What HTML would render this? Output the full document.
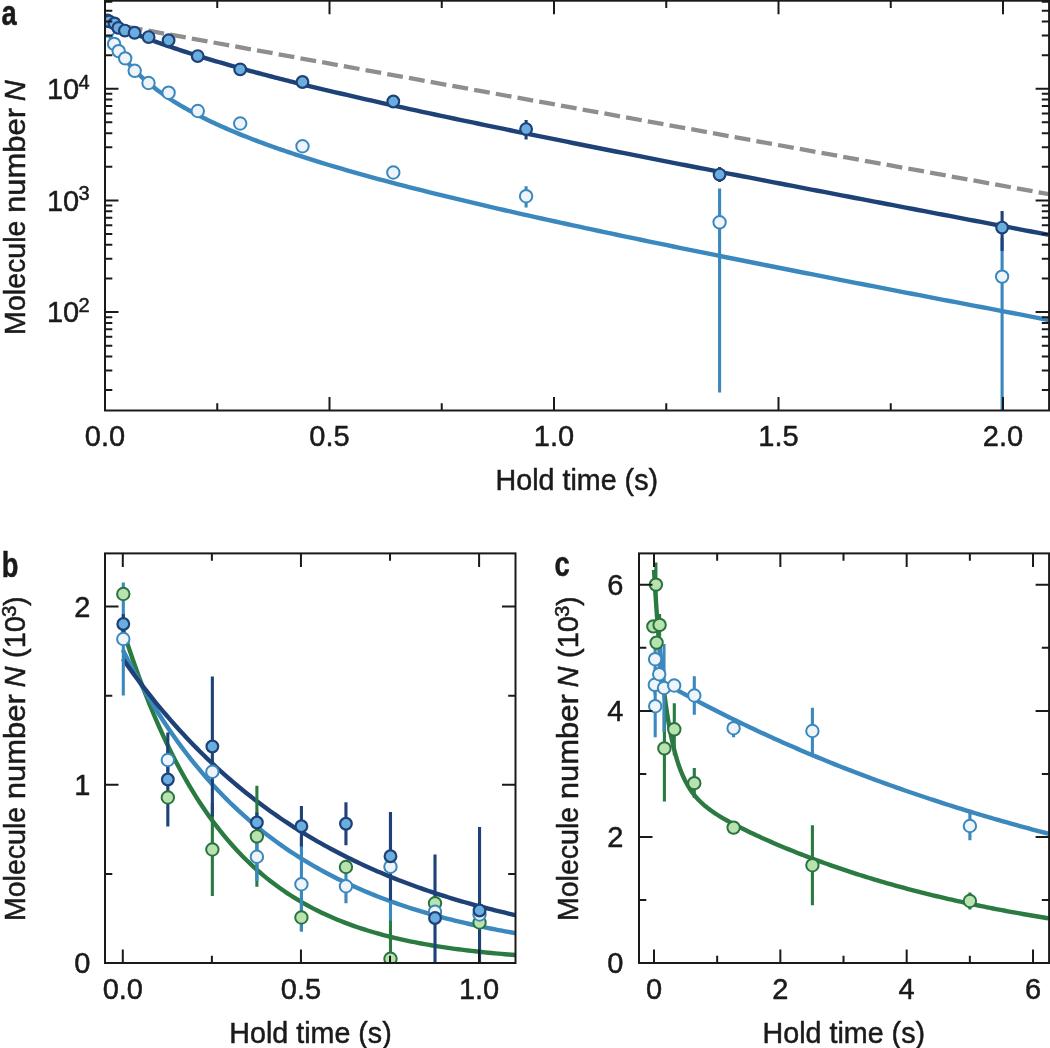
<!DOCTYPE html>
<html><head><meta charset="utf-8"><title>Figure</title><style>html,body{margin:0;padding:0;background:#fff}svg{display:block}text{stroke:#1a1a1a;stroke-width:.5px;stroke-linejoin:round}</style></head><body>
<svg width="1050" height="1048" viewBox="0 0 1050 1048" font-family="'Liberation Sans', Arial, Helvetica, sans-serif" fill="#1a1a1a">
<rect width="1050" height="1048" fill="#ffffff"/>
<defs><clipPath id="ca"><rect x="105" y="0.7" width="943.5" height="409.8"/></clipPath><clipPath id="cb"><rect x="105" y="553" width="410.5" height="410"/></clipPath><clipPath id="cc"><rect x="639" y="553" width="409.5" height="410"/></clipPath></defs>
<g clip-path="url(#ca)">
<path d="M105 22.8 L1060 196.18" stroke="#8e8e8e" stroke-width="4.3" stroke-dasharray="15.9 6.167" stroke-dashoffset="0" fill="none"/>
<path d="M105 25.39 L107.47 30.91 L109.94 35.9 L112.41 40.46 L114.87 44.67 L117.34 48.57 L119.81 52.22 L122.28 55.64 L124.75 58.86 L127.22 61.9 L129.68 64.79 L132.15 67.54 L134.62 70.17 L137.09 72.68 L139.56 75.09 L142.03 77.41 L144.49 79.64 L146.96 81.79 L149.43 83.86 L151.9 85.87 L154.37 87.82 L156.84 89.71 L159.3 91.54 L161.77 93.32 L164.24 95.05 L166.71 96.74 L169.18 98.39 L171.65 99.99 L174.11 101.56 L176.58 103.09 L179.05 104.59 L181.52 106.06 L183.99 107.49 L186.46 108.9 L188.92 110.28 L191.39 111.63 L193.86 112.96 L196.33 114.27 L198.8 115.55 L201.27 116.81 L203.73 118.05 L206.2 119.27 L208.67 120.47 L211.14 121.65 L213.61 122.81 L216.08 123.96 L218.54 125.09 L221.01 126.2 L223.48 127.3 L225.95 128.38 L228.42 129.45 L230.89 130.51 L233.35 131.55 L235.82 132.58 L238.29 133.6 L240.76 134.61 L243.23 135.6 L245.7 136.58 L248.16 137.56 L250.63 138.52 L253.1 139.47 L255.57 140.41 L258.04 141.34 L260.51 142.27 L262.97 143.18 L265.44 144.09 L267.91 144.98 L270.38 145.87 L272.85 146.75 L275.32 147.62 L277.78 148.49 L280.25 149.35 L282.72 150.2 L285.19 151.04 L287.66 151.88 L290.13 152.71 L292.59 153.53 L295.06 154.35 L297.53 155.16 L300 155.96 L303 156.93 L309.28 158.93 L315.55 160.9 L321.83 162.83 L328.11 164.74 L334.39 166.61 L340.66 168.46 L346.94 170.28 L353.22 172.07 L359.5 173.84 L365.77 175.59 L372.05 177.32 L378.33 179.02 L384.61 180.71 L390.88 182.38 L397.16 184.03 L403.44 185.66 L409.71 187.28 L415.99 188.88 L422.27 190.47 L428.55 192.04 L434.82 193.6 L441.1 195.15 L447.38 196.68 L453.66 198.21 L459.93 199.72 L466.21 201.22 L472.49 202.7 L478.76 204.18 L485.04 205.65 L491.32 207.11 L497.6 208.56 L503.87 210 L510.15 211.44 L516.43 212.86 L522.71 214.28 L528.98 215.69 L535.26 217.09 L541.54 218.48 L547.82 219.87 L554.09 221.25 L560.37 222.63 L566.65 224 L572.92 225.36 L579.2 226.72 L585.48 228.07 L591.76 229.42 L598.03 230.76 L604.31 232.1 L610.59 233.43 L616.87 234.75 L623.14 236.08 L629.42 237.4 L635.7 238.71 L641.97 240.02 L648.25 241.32 L654.53 242.63 L660.81 243.92 L667.08 245.22 L673.36 246.51 L679.64 247.8 L685.92 249.08 L692.19 250.36 L698.47 251.64 L704.75 252.91 L711.03 254.19 L717.3 255.46 L723.58 256.72 L729.86 257.99 L736.13 259.25 L742.41 260.5 L748.69 261.76 L754.97 263.01 L761.24 264.27 L767.52 265.51 L773.8 266.76 L780.08 268.01 L786.35 269.25 L792.63 270.49 L798.91 271.73 L805.18 272.97 L811.46 274.2 L817.74 275.43 L824.02 276.67 L830.29 277.9 L836.57 279.12 L842.85 280.35 L849.13 281.58 L855.4 282.8 L861.68 284.02 L867.96 285.24 L874.24 286.46 L880.51 287.68 L886.79 288.9 L893.07 290.11 L899.34 291.33 L905.62 292.54 L911.9 293.75 L918.18 294.96 L924.45 296.17 L930.73 297.38 L937.01 298.59 L943.29 299.79 L949.56 301 L955.84 302.2 L962.12 303.41 L968.39 304.61 L974.67 305.81 L980.95 307.01 L987.23 308.21 L993.5 309.41 L999.78 310.61 L1006.06 311.81 L1012.34 313.01 L1018.61 314.2 L1024.89 315.4 L1031.17 316.59 L1037.45 317.79 L1043.72 318.98 L1050 320.18" stroke="#3a88be" stroke-width="4.4" fill="none" stroke-linejoin="round" />
<path d="M105 20.82 L107.47 21.98 L109.94 23.13 L112.41 24.26 L114.87 25.37 L117.34 26.46 L119.81 27.54 L122.28 28.6 L124.75 29.65 L127.22 30.68 L129.68 31.7 L132.15 32.71 L134.62 33.7 L137.09 34.68 L139.56 35.65 L142.03 36.6 L144.49 37.55 L146.96 38.48 L149.43 39.4 L151.9 40.32 L154.37 41.22 L156.84 42.11 L159.3 43 L161.77 43.87 L164.24 44.74 L166.71 45.6 L169.18 46.45 L171.65 47.29 L174.11 48.12 L176.58 48.95 L179.05 49.76 L181.52 50.58 L183.99 51.38 L186.46 52.18 L188.92 52.97 L191.39 53.75 L193.86 54.53 L196.33 55.3 L198.8 56.07 L201.27 56.83 L203.73 57.58 L206.2 58.33 L208.67 59.08 L211.14 59.82 L213.61 60.55 L216.08 61.28 L218.54 62 L221.01 62.72 L223.48 63.43 L225.95 64.14 L228.42 64.85 L230.89 65.55 L233.35 66.25 L235.82 66.94 L238.29 67.63 L240.76 68.31 L243.23 68.99 L245.7 69.67 L248.16 70.34 L250.63 71.01 L253.1 71.68 L255.57 72.34 L258.04 73 L260.51 73.66 L262.97 74.31 L265.44 74.96 L267.91 75.6 L270.38 76.25 L272.85 76.89 L275.32 77.53 L277.78 78.16 L280.25 78.79 L282.72 79.42 L285.19 80.05 L287.66 80.67 L290.13 81.29 L292.59 81.91 L295.06 82.53 L297.53 83.14 L300 83.75 L303 84.49 L309.28 86.03 L315.55 87.55 L321.83 89.06 L328.11 90.56 L334.39 92.04 L340.66 93.51 L346.94 94.97 L353.22 96.42 L359.5 97.86 L365.77 99.29 L372.05 100.72 L378.33 102.13 L384.61 103.53 L390.88 104.93 L397.16 106.31 L403.44 107.69 L409.71 109.07 L415.99 110.43 L422.27 111.79 L428.55 113.15 L434.82 114.49 L441.1 115.83 L447.38 117.17 L453.66 118.5 L459.93 119.82 L466.21 121.14 L472.49 122.46 L478.76 123.77 L485.04 125.07 L491.32 126.38 L497.6 127.67 L503.87 128.97 L510.15 130.26 L516.43 131.54 L522.71 132.82 L528.98 134.1 L535.26 135.38 L541.54 136.65 L547.82 137.92 L554.09 139.19 L560.37 140.45 L566.65 141.71 L572.92 142.97 L579.2 144.23 L585.48 145.48 L591.76 146.73 L598.03 147.98 L604.31 149.23 L610.59 150.48 L616.87 151.72 L623.14 152.96 L629.42 154.2 L635.7 155.44 L641.97 156.67 L648.25 157.91 L654.53 159.14 L660.81 160.37 L667.08 161.6 L673.36 162.83 L679.64 164.05 L685.92 165.28 L692.19 166.5 L698.47 167.72 L704.75 168.94 L711.03 170.16 L717.3 171.38 L723.58 172.6 L729.86 173.82 L736.13 175.03 L742.41 176.25 L748.69 177.46 L754.97 178.67 L761.24 179.89 L767.52 181.1 L773.8 182.31 L780.08 183.52 L786.35 184.73 L792.63 185.93 L798.91 187.14 L805.18 188.35 L811.46 189.55 L817.74 190.76 L824.02 191.96 L830.29 193.17 L836.57 194.37 L842.85 195.58 L849.13 196.78 L855.4 197.98 L861.68 199.18 L867.96 200.38 L874.24 201.58 L880.51 202.78 L886.79 203.98 L893.07 205.18 L899.34 206.38 L905.62 207.58 L911.9 208.78 L918.18 209.97 L924.45 211.17 L930.73 212.37 L937.01 213.56 L943.29 214.76 L949.56 215.96 L955.84 217.15 L962.12 218.35 L968.39 219.54 L974.67 220.74 L980.95 221.93 L987.23 223.13 L993.5 224.32 L999.78 225.51 L1006.06 226.71 L1012.34 227.9 L1018.61 229.09 L1024.89 230.29 L1031.17 231.48 L1037.45 232.67 L1043.72 233.86 L1050 235.06" stroke="#1e4278" stroke-width="4.4" fill="none" stroke-linejoin="round" />
<path d="M526.1 186.3V207.6 M719.6 188.6V392.5 M1002.1 238V420" stroke="#3a88be" stroke-width="3.1" fill="none"/>
<path d="M526.1 120V139.4 M719.6 167V182 M1002.1 211V251" stroke="#1e4278" stroke-width="3.1" fill="none"/>
<g fill="#eef4fa" stroke="#3a88be" stroke-width="2.0"><circle cx="108.3" cy="30.5" r="6.2"/><circle cx="114.1" cy="43.9" r="6.2"/><circle cx="118.7" cy="51.1" r="6.2"/><circle cx="125.2" cy="58.4" r="6.2"/><circle cx="134.7" cy="70.8" r="6.2"/><circle cx="148.5" cy="83" r="6.2"/><circle cx="168.6" cy="92.7" r="6.2"/><circle cx="197.8" cy="111" r="6.2"/><circle cx="240.2" cy="123.5" r="6.2"/><circle cx="302.5" cy="146.25" r="6.2"/><circle cx="393.3" cy="172.5" r="6.2"/><circle cx="526.1" cy="196.2" r="6.2"/><circle cx="719.6" cy="222.3" r="6.2"/><circle cx="1002.1" cy="276.6" r="6.2"/></g>
<g fill="#6aaee0" stroke="#1e4278" stroke-width="2.2"><circle cx="107.3" cy="20.5" r="5.85"/><circle cx="109.2" cy="21.4" r="5.85"/><circle cx="114.5" cy="23.5" r="5.85"/><circle cx="118.4" cy="27.9" r="5.85"/><circle cx="124.9" cy="30.6" r="5.85"/><circle cx="134.6" cy="32.8" r="5.85"/><circle cx="148.6" cy="37.1" r="5.85"/><circle cx="168.6" cy="40.3" r="5.85"/><circle cx="197.7" cy="56.1" r="5.85"/><circle cx="240.2" cy="69.4" r="5.85"/><circle cx="302.5" cy="82" r="5.85"/><circle cx="393.3" cy="101.5" r="5.85"/><circle cx="526.1" cy="129.1" r="5.85"/><circle cx="719.6" cy="174.6" r="5.85"/><circle cx="1002.1" cy="227.6" r="5.85"/></g>
</g>
<path d="M329.5 0.7 v13.5 M329.5 410.5 v-13.5 M554 0.7 v13.5 M554 410.5 v-13.5 M778.5 0.7 v13.5 M778.5 410.5 v-13.5 M1003 0.7 v13.5 M1003 410.5 v-13.5 M217.25 0.7 v7.3 M217.25 410.5 v-7.3 M441.75 0.7 v7.3 M441.75 410.5 v-7.3 M666.25 0.7 v7.3 M666.25 410.5 v-7.3 M890.75 0.7 v7.3 M890.75 410.5 v-7.3 M105 88.75 h13.5 M1049.1 88.75 h-13.5 M105 200.41 h13.5 M1049.1 200.41 h-13.5 M105 312.07 h13.5 M1049.1 312.07 h-13.5 M105 390.12 h7.3 M1049.1 390.12 h-7.3 M105 370.45 h7.3 M1049.1 370.45 h-7.3 M105 356.5 h7.3 M1049.1 356.5 h-7.3 M105 345.68 h7.3 M1049.1 345.68 h-7.3 M105 336.84 h7.3 M1049.1 336.84 h-7.3 M105 329.37 h7.3 M1049.1 329.37 h-7.3 M105 322.89 h7.3 M1049.1 322.89 h-7.3 M105 317.18 h7.3 M1049.1 317.18 h-7.3 M105 278.46 h7.3 M1049.1 278.46 h-7.3 M105 258.79 h7.3 M1049.1 258.79 h-7.3 M105 244.84 h7.3 M1049.1 244.84 h-7.3 M105 234.02 h7.3 M1049.1 234.02 h-7.3 M105 225.18 h7.3 M1049.1 225.18 h-7.3 M105 217.71 h7.3 M1049.1 217.71 h-7.3 M105 211.23 h7.3 M1049.1 211.23 h-7.3 M105 205.52 h7.3 M1049.1 205.52 h-7.3 M105 166.8 h7.3 M1049.1 166.8 h-7.3 M105 147.13 h7.3 M1049.1 147.13 h-7.3 M105 133.18 h7.3 M1049.1 133.18 h-7.3 M105 122.36 h7.3 M1049.1 122.36 h-7.3 M105 113.52 h7.3 M1049.1 113.52 h-7.3 M105 106.05 h7.3 M1049.1 106.05 h-7.3 M105 99.57 h7.3 M1049.1 99.57 h-7.3 M105 93.86 h7.3 M1049.1 93.86 h-7.3 M105 55.14 h7.3 M1049.1 55.14 h-7.3 M105 35.47 h7.3 M1049.1 35.47 h-7.3 M105 21.52 h7.3 M1049.1 21.52 h-7.3 M105 10.7 h7.3 M1049.1 10.7 h-7.3 M105 1.86 h7.3 M1049.1 1.86 h-7.3" stroke="#1a1a1a" stroke-width="2.0" fill="none"/>
<rect x="105" y="0.7" width="944.1" height="409.8" fill="none" stroke="#1a1a1a" stroke-width="2.0"/>
<text x="105" y="446.4" font-size="29" text-anchor="middle">0.0</text>
<text x="329.5" y="446.4" font-size="29" text-anchor="middle">0.5</text>
<text x="554" y="446.4" font-size="29" text-anchor="middle">1.0</text>
<text x="778.5" y="446.4" font-size="29" text-anchor="middle">1.5</text>
<text x="1003" y="446.4" font-size="29" text-anchor="middle">2.0</text>
<text x="89.5" y="98.95" font-size="29" text-anchor="end">10<tspan font-size="20" dy="-10.2" dx="-0.8">4</tspan></text>
<text x="89.5" y="210.61" font-size="29" text-anchor="end">10<tspan font-size="20" dy="-10.2" dx="-0.8">3</tspan></text>
<text x="89.5" y="322.27" font-size="29" text-anchor="end">10<tspan font-size="20" dy="-10.2" dx="-0.8">2</tspan></text>
<text x="576.8" y="489.9" font-size="29" text-anchor="middle" textLength="162.5" lengthAdjust="spacingAndGlyphs">Hold time (s)</text>
<g transform="translate(25.3 172.3) rotate(-90)" font-size="29"><text x="-162.6" y="0" textLength="114.3" lengthAdjust="spacingAndGlyphs">Molecule</text><text x="-40.7" y="0" textLength="105.1" lengthAdjust="spacingAndGlyphs">number</text><text x="71" y="0" font-style="italic">N</text></g>
<text transform="translate(1.5 24.6) scale(0.78 1)" font-size="35" font-weight="bold">a</text>
<text transform="translate(1.8 576.6) scale(0.78 1)" font-size="35" font-weight="bold">b</text>
<text transform="translate(554.5 576.4) scale(0.78 1)" font-size="35" font-weight="bold">c</text>
<g clip-path="url(#cb)">
<path d="M122.8 629.2 L126.15 639.69 L129.51 649.84 L132.86 659.67 L136.21 669.2 L139.57 678.42 L142.92 687.36 L146.27 696.01 L149.63 704.4 L152.98 712.52 L156.33 720.38 L159.69 728 L163.04 735.38 L166.39 742.53 L169.75 749.45 L173.1 756.16 L176.45 762.65 L179.81 768.94 L183.16 775.04 L186.51 780.94 L189.87 786.66 L193.22 792.19 L196.58 797.56 L199.93 802.75 L203.28 807.78 L206.64 812.66 L209.99 817.38 L213.34 821.95 L216.7 826.38 L220.05 830.67 L223.4 834.82 L226.76 838.85 L230.11 842.75 L233.46 846.52 L236.82 850.18 L240.17 853.72 L243.52 857.16 L246.88 860.48 L250.23 863.7 L253.58 866.82 L256.94 869.84 L260.29 872.76 L263.64 875.6 L267 878.34 L270.35 881 L273.7 883.57 L277.06 886.07 L280.41 888.48 L283.76 890.82 L287.12 893.09 L290.47 895.28 L293.82 897.41 L297.18 899.47 L300.53 901.47 L303.88 903.4 L307.24 905.27 L310.59 907.08 L313.94 908.84 L317.3 910.54 L320.65 912.19 L324 913.78 L327.36 915.33 L330.71 916.82 L334.06 918.27 L337.42 919.68 L340.77 921.04 L344.13 922.36 L347.48 923.63 L350.83 924.87 L354.19 926.07 L357.54 927.23 L360.89 928.35 L364.25 929.44 L367.6 930.49 L370.95 931.51 L374.31 932.5 L377.66 933.46 L381.01 934.39 L384.37 935.28 L387.72 936.15 L391.07 937 L394.43 937.81 L397.78 938.61 L401.13 939.37 L404.49 940.11 L407.84 940.83 L411.19 941.53 L414.55 942.2 L417.9 942.86 L421.25 943.49 L424.61 944.1 L427.96 944.69 L431.31 945.27 L434.67 945.83 L438.02 946.36 L441.37 946.89 L444.73 947.39 L448.08 947.88 L451.43 948.36 L454.79 948.82 L458.14 949.26 L461.49 949.69 L464.85 950.11 L468.2 950.52 L471.55 950.91 L474.91 951.29 L478.26 951.66 L481.62 952.01 L484.97 952.36 L488.32 952.69 L491.68 953.02 L495.03 953.33 L498.38 953.63 L501.74 953.93 L505.09 954.21 L508.44 954.49 L511.8 954.75 L515.15 955.01 L518.5 955.26 L521.86 955.51" stroke="#2a7a42" stroke-width="4.4" fill="none" stroke-linejoin="round" />
<path d="M122.8 649.77 L126.15 656.46 L129.51 662.99 L132.86 669.36 L136.21 675.59 L139.57 681.67 L142.92 687.6 L146.27 693.4 L149.63 699.07 L152.98 704.61 L156.33 710.02 L159.69 715.3 L163.04 720.47 L166.39 725.51 L169.75 730.45 L173.1 735.27 L176.45 739.98 L179.81 744.59 L183.16 749.1 L186.51 753.5 L189.87 757.81 L193.22 762.02 L196.58 766.14 L199.93 770.17 L203.28 774.11 L206.64 777.96 L209.99 781.73 L213.34 785.42 L216.7 789.03 L220.05 792.56 L223.4 796.01 L226.76 799.39 L230.11 802.7 L233.46 805.93 L236.82 809.1 L240.17 812.2 L243.52 815.23 L246.88 818.2 L250.23 821.11 L253.58 823.95 L256.94 826.73 L260.29 829.46 L263.64 832.13 L267 834.74 L270.35 837.3 L273.7 839.8 L277.06 842.25 L280.41 844.66 L283.76 847.01 L287.12 849.31 L290.47 851.56 L293.82 853.77 L297.18 855.93 L300.53 858.05 L303.88 860.12 L307.24 862.16 L310.59 864.15 L313.94 866.09 L317.3 868 L320.65 869.87 L324 871.71 L327.36 873.5 L330.71 875.26 L334.06 876.98 L337.42 878.67 L340.77 880.32 L344.13 881.94 L347.48 883.53 L350.83 885.08 L354.19 886.61 L357.54 888.1 L360.89 889.56 L364.25 891 L367.6 892.4 L370.95 893.78 L374.31 895.13 L377.66 896.45 L381.01 897.75 L384.37 899.02 L387.72 900.26 L391.07 901.48 L394.43 902.68 L397.78 903.85 L401.13 905 L404.49 906.12 L407.84 907.22 L411.19 908.31 L414.55 909.37 L417.9 910.4 L421.25 911.42 L424.61 912.42 L427.96 913.4 L431.31 914.36 L434.67 915.3 L438.02 916.22 L441.37 917.12 L444.73 918.01 L448.08 918.88 L451.43 919.73 L454.79 920.57 L458.14 921.38 L461.49 922.19 L464.85 922.97 L468.2 923.74 L471.55 924.5 L474.91 925.24 L478.26 925.97 L481.62 926.68 L484.97 927.38 L488.32 928.06 L491.68 928.74 L495.03 929.39 L498.38 930.04 L501.74 930.67 L505.09 931.29 L508.44 931.9 L511.8 932.5 L515.15 933.09 L518.5 933.66 L521.86 934.22" stroke="#3a88be" stroke-width="4.4" fill="none" stroke-linejoin="round" />
<path d="M122.8 658.84 L126.15 663.6 L129.51 668.29 L132.86 672.91 L136.21 677.45 L139.57 681.93 L142.92 686.33 L146.27 690.67 L149.63 694.93 L152.98 699.13 L156.33 703.27 L159.69 707.34 L163.04 711.34 L166.39 715.29 L169.75 719.17 L173.1 722.99 L176.45 726.75 L179.81 730.45 L183.16 734.09 L186.51 737.68 L189.87 741.21 L193.22 744.68 L196.58 748.1 L199.93 751.47 L203.28 754.79 L206.64 758.05 L209.99 761.26 L213.34 764.42 L216.7 767.53 L220.05 770.59 L223.4 773.61 L226.76 776.58 L230.11 779.5 L233.46 782.37 L236.82 785.2 L240.17 787.99 L243.52 790.73 L246.88 793.43 L250.23 796.08 L253.58 798.7 L256.94 801.27 L260.29 803.81 L263.64 806.3 L267 808.76 L270.35 811.17 L273.7 813.55 L277.06 815.89 L280.41 818.2 L283.76 820.47 L287.12 822.7 L290.47 824.9 L293.82 827.06 L297.18 829.19 L300.53 831.29 L303.88 833.35 L307.24 835.38 L310.59 837.38 L313.94 839.35 L317.3 841.29 L320.65 843.19 L324 845.07 L327.36 846.92 L330.71 848.74 L334.06 850.53 L337.42 852.29 L340.77 854.03 L344.13 855.73 L347.48 857.41 L350.83 859.07 L354.19 860.7 L357.54 862.3 L360.89 863.88 L364.25 865.43 L367.6 866.96 L370.95 868.46 L374.31 869.94 L377.66 871.4 L381.01 872.84 L384.37 874.25 L387.72 875.64 L391.07 877.01 L394.43 878.36 L397.78 879.68 L401.13 880.99 L404.49 882.27 L407.84 883.54 L411.19 884.78 L414.55 886.01 L417.9 887.21 L421.25 888.4 L424.61 889.57 L427.96 890.72 L431.31 891.85 L434.67 892.97 L438.02 894.07 L441.37 895.15 L444.73 896.21 L448.08 897.25 L451.43 898.28 L454.79 899.3 L458.14 900.3 L461.49 901.28 L464.85 902.25 L468.2 903.2 L471.55 904.14 L474.91 905.06 L478.26 905.97 L481.62 906.86 L484.97 907.74 L488.32 908.6 L491.68 909.46 L495.03 910.3 L498.38 911.12 L501.74 911.93 L505.09 912.73 L508.44 913.52 L511.8 914.3 L515.15 915.06 L518.5 915.81 L521.86 916.55" stroke="#1e4278" stroke-width="4.4" fill="none" stroke-linejoin="round" />
<path d="M123.3 594V594 M167.83 797.5V797.5 M212.36 803V896 M256.89 785.8V886.8 M301.42 903.5V931.5 M345.95 867V867 M390.48 918.75V998.75 M435.01 903.25V903.25 M479.54 922.5V922.5" stroke="#2a7a42" stroke-width="3.1" fill="none"/>
<path d="M123.3 582.5V695.5 M167.83 748V772 M212.36 759.75V783.75 M256.89 832.45V881.05 M301.42 837.25V931.25 M345.95 869.25V903.25 M390.48 812.75V920.75 M435.01 899.75V923.75 M479.54 902.5V926.5" stroke="#3a88be" stroke-width="3.1" fill="none"/>
<path d="M123.3 614V634 M167.83 732.5V826.5 M212.36 676.5V816.5 M256.89 812.5V832.5 M301.42 805.95V846.55 M345.95 802.25V845.25 M390.48 811.95V900.55 M435.01 854.5V981.5 M479.54 827V994" stroke="#1e4278" stroke-width="3.1" fill="none"/>
<g fill="#b8e2ae" stroke="#2a7340" stroke-width="2.0"><circle cx="123.3" cy="594" r="6.2"/><circle cx="167.83" cy="797.5" r="6.2"/><circle cx="212.36" cy="849.5" r="6.2"/><circle cx="256.89" cy="836.3" r="6.2"/><circle cx="301.42" cy="917.5" r="6.2"/><circle cx="345.95" cy="867" r="6.2"/><circle cx="390.48" cy="958.75" r="6.2"/><circle cx="435.01" cy="903.25" r="6.2"/><circle cx="479.54" cy="922.5" r="6.2"/></g>
<g fill="#eef4fa" stroke="#3a88be" stroke-width="2.0"><circle cx="123.3" cy="639" r="6.2"/><circle cx="167.83" cy="760" r="6.2"/><circle cx="212.36" cy="771.75" r="6.2"/><circle cx="256.89" cy="856.75" r="6.2"/><circle cx="301.42" cy="884.25" r="6.2"/><circle cx="345.95" cy="886.25" r="6.2"/><circle cx="390.48" cy="866.75" r="6.2"/><circle cx="435.01" cy="911.75" r="6.2"/><circle cx="479.54" cy="914.5" r="6.2"/></g>
<g fill="#6aaee0" stroke="#1e4278" stroke-width="2.2"><circle cx="123.3" cy="624" r="5.85"/><circle cx="167.83" cy="779.5" r="5.85"/><circle cx="212.36" cy="746.5" r="5.85"/><circle cx="256.89" cy="822.5" r="5.85"/><circle cx="301.42" cy="826.25" r="5.85"/><circle cx="345.95" cy="823.75" r="5.85"/><circle cx="390.48" cy="856.25" r="5.85"/><circle cx="435.01" cy="918" r="5.85"/><circle cx="479.54" cy="910.5" r="5.85"/></g>
</g>
<path d="M122.8 553.4 v13.5 M122.8 963 v-13.5 M300.95 553.4 v13.5 M300.95 963 v-13.5 M479.1 553.4 v13.5 M479.1 963 v-13.5 M211.88 553.4 v7.3 M211.88 963 v-7.3 M390.03 553.4 v7.3 M390.03 963 v-7.3 M105 784.8 h13.5 M515.5 784.8 h-13.5 M105 606.6 h13.5 M515.5 606.6 h-13.5 M105 873.9 h7.3 M515.5 873.9 h-7.3 M105 695.7 h7.3 M515.5 695.7 h-7.3" stroke="#1a1a1a" stroke-width="2.0" fill="none"/>
<rect x="105" y="553.4" width="410.5" height="409.6" fill="none" stroke="#1a1a1a" stroke-width="2.0"/>
<text x="122.8" y="998.8" font-size="29" text-anchor="middle">0.0</text>
<text x="300.95" y="998.8" font-size="29" text-anchor="middle">0.5</text>
<text x="479.1" y="998.8" font-size="29" text-anchor="middle">1.0</text>
<text x="90.4" y="973.2" font-size="29" text-anchor="end">0</text>
<text x="90.4" y="795" font-size="29" text-anchor="end">1</text>
<text x="90.4" y="616.8" font-size="29" text-anchor="end">2</text>
<text x="310.5" y="1042.8" font-size="29" text-anchor="middle" textLength="162.5" lengthAdjust="spacingAndGlyphs">Hold time (s)</text>
<g transform="translate(25.3 758.5) rotate(-90)" font-size="29"><text x="-162.6" y="0" textLength="114.3" lengthAdjust="spacingAndGlyphs">Molecule</text><text x="-40.7" y="0" textLength="105.1" lengthAdjust="spacingAndGlyphs">number</text><text x="71" y="0" font-style="italic">N</text><text x="100.5" y="0">(10</text><text x="141.6" y="-9.2" font-size="20.5">3</text><text x="152.4" y="0">)</text></g>
<g clip-path="url(#cc)">
<path d="M654 569.79 L654.51 578.44 L655.02 586.76 L655.53 594.76 L656.04 602.45 L656.55 609.85 L657.06 616.97 L657.57 623.82 L658.08 630.41 L658.59 636.75 L659.1 642.85 L659.62 648.72 L660.13 654.36 L660.64 659.8 L661.15 665.03 L661.66 670.07 L662.17 674.92 L662.68 679.58 L663.19 684.08 L663.7 688.41 L664.21 692.58 L664.72 696.59 L665.23 700.46 L665.74 704.18 L666.25 707.77 L666.76 711.23 L667.27 714.57 L667.78 717.78 L668.29 720.88 L668.8 723.87 L669.31 726.75 L669.82 729.52 L670.33 732.2 L670.85 734.79 L671.36 737.28 L671.87 739.69 L672.38 742.01 L672.89 744.26 L673.4 746.42 L673.91 748.51 L674.42 750.53 L674.93 752.48 L675.44 754.37 L675.95 756.19 L676.46 757.95 L676.97 759.66 L677.48 761.31 L677.99 762.9 L678.5 764.44 L679.01 765.93 L679.52 767.38 L680.03 768.78 L680.54 770.13 L681.05 771.45 L681.57 772.72 L682.08 773.95 L682.59 775.15 L683.1 776.31 L683.61 777.43 L684.12 778.53 L684.63 779.59 L685.14 780.62 L685.65 781.62 L686.16 782.59 L686.67 783.53 L687.18 784.45 L687.69 785.34 L688.2 786.21 L688.71 787.06 L689.22 787.88 L689.73 788.68 L690.24 789.47 L690.75 790.23 L691.26 790.97 L691.77 791.69 L692.28 792.4 L692.8 793.09 L693.31 793.76 L693.82 794.42 L694.33 795.06 L694.84 795.69 L695.35 796.31 L695.86 796.91 L696.37 797.5 L696.88 798.07 L697.39 798.64 L697.9 799.19 L698.41 799.73 L698.92 800.26 L699.43 800.78 L699.94 801.29 L700.45 801.79 L700.96 802.29 L701.47 802.77 L701.98 803.24 L702.49 803.71 L703 804.17 L703.52 804.62 L704.03 805.07 L704.54 805.5 L705.8 806.56 L708.76 808.89 L711.72 811.05 L714.69 813.08 L717.65 815 L720.61 816.83 L723.57 818.59 L726.53 820.28 L729.5 821.92 L732.46 823.52 L735.42 825.07 L738.38 826.6 L741.34 828.09 L744.31 829.56 L747.27 831 L750.23 832.43 L753.19 833.83 L756.15 835.21 L759.12 836.57 L762.08 837.92 L765.04 839.25 L768 840.57 L770.97 841.87 L773.93 843.15 L776.89 844.43 L779.85 845.68 L782.81 846.93 L785.78 848.16 L788.74 849.37 L791.7 850.58 L794.66 851.77 L797.62 852.94 L800.59 854.11 L803.55 855.26 L806.51 856.4 L809.47 857.53 L812.43 858.65 L815.4 859.75 L818.36 860.84 L821.32 861.93 L824.28 863 L827.25 864.05 L830.21 865.1 L833.17 866.14 L836.13 867.16 L839.09 868.18 L842.06 869.18 L845.02 870.17 L847.98 871.15 L850.94 872.13 L853.9 873.09 L856.87 874.04 L859.83 874.98 L862.79 875.91 L865.75 876.83 L868.71 877.75 L871.68 878.65 L874.64 879.54 L877.6 880.42 L880.56 881.3 L883.52 882.16 L886.49 883.02 L889.45 883.86 L892.41 884.7 L895.37 885.53 L898.34 886.35 L901.3 887.16 L904.26 887.96 L907.22 888.76 L910.18 889.54 L913.15 890.32 L916.11 891.09 L919.07 891.85 L922.03 892.6 L924.99 893.35 L927.96 894.09 L930.92 894.82 L933.88 895.54 L936.84 896.25 L939.8 896.96 L942.77 897.66 L945.73 898.35 L948.69 899.03 L951.65 899.71 L954.61 900.38 L957.58 901.04 L960.54 901.7 L963.5 902.35 L966.46 902.99 L969.43 903.62 L972.39 904.25 L975.35 904.87 L978.31 905.49 L981.27 906.1 L984.24 906.7 L987.2 907.29 L990.16 907.88 L993.12 908.47 L996.08 909.04 L999.05 909.62 L1002.01 910.18 L1004.97 910.74 L1007.93 911.29 L1010.89 911.84 L1013.86 912.38 L1016.82 912.92 L1019.78 913.45 L1022.74 913.97 L1025.71 914.49 L1028.67 915 L1031.63 915.51 L1034.59 916.01 L1037.55 916.51 L1040.52 917 L1043.48 917.49 L1046.44 917.97 L1049.4 918.45 L1052.36 918.92 L1055.33 919.39 L1058.29 919.85" stroke="#2a7a42" stroke-width="4.4" fill="none" stroke-linejoin="round" />
<path d="M659.1 642.84 L659.62 648.71 L660.13 654.35 L660.64 659.76 L661.15 664.91 L661.66 669.73 L662.17 674.03 L662.68 677.55 L663.19 680.03 L663.7 681.56 L664.21 682.46 L664.72 683.03 L665.23 683.44 L665.74 683.78 L666.25 684.09 L666.76 684.39 L667.27 684.68 L667.78 684.97 L668.29 685.26 L668.8 685.54 L669.31 685.83 L669.82 686.11 L670.33 686.4 L670.85 686.68 L671.36 686.96 L671.87 687.25 L672.38 687.53 L672.89 687.81 L673.4 688.1 L673.91 688.38 L674.42 688.66 L674.93 688.94 L675.44 689.22 L675.95 689.5 L676.46 689.78 L676.97 690.06 L677.48 690.34 L677.99 690.62 L678.5 690.9 L679.01 691.18 L679.52 691.46 L680.03 691.74 L680.54 692.02 L681.05 692.3 L681.57 692.57 L682.08 692.85 L682.59 693.13 L683.1 693.41 L683.61 693.68 L684.12 693.96 L684.63 694.24 L685.14 694.51 L685.65 694.79 L686.16 695.06 L686.67 695.34 L687.18 695.61 L687.69 695.89 L688.2 696.16 L688.71 696.43 L689.22 696.71 L689.73 696.98 L690.24 697.25 L690.75 697.53 L691.26 697.8 L691.77 698.07 L692.28 698.34 L692.8 698.61 L693.31 698.89 L693.82 699.16 L694.33 699.43 L694.84 699.7 L695.35 699.97 L695.86 700.24 L696.37 700.51 L696.88 700.78 L697.39 701.05 L697.9 701.32 L698.41 701.58 L698.92 701.85 L699.43 702.12 L699.94 702.39 L700.45 702.66 L700.96 702.92 L701.47 703.19 L701.98 703.46 L702.49 703.72 L703 703.99 L703.52 704.25 L704.03 704.52 L704.54 704.79 L705.8 705.44 L708.76 706.97 L711.72 708.49 L714.69 710 L717.65 711.51 L720.61 713 L723.57 714.49 L726.53 715.96 L729.5 717.43 L732.46 718.89 L735.42 720.34 L738.38 721.78 L741.34 723.21 L744.31 724.64 L747.27 726.05 L750.23 727.46 L753.19 728.86 L756.15 730.25 L759.12 731.63 L762.08 733.01 L765.04 734.37 L768 735.73 L770.97 737.08 L773.93 738.42 L776.89 739.76 L779.85 741.08 L782.81 742.4 L785.78 743.71 L788.74 745.02 L791.7 746.31 L794.66 747.6 L797.62 748.88 L800.59 750.15 L803.55 751.41 L806.51 752.67 L809.47 753.92 L812.43 755.16 L815.4 756.4 L818.36 757.62 L821.32 758.84 L824.28 760.06 L827.25 761.26 L830.21 762.46 L833.17 763.65 L836.13 764.84 L839.09 766.01 L842.06 767.18 L845.02 768.35 L847.98 769.5 L850.94 770.65 L853.9 771.8 L856.87 772.93 L859.83 774.06 L862.79 775.18 L865.75 776.3 L868.71 777.41 L871.68 778.51 L874.64 779.61 L877.6 780.7 L880.56 781.78 L883.52 782.86 L886.49 783.93 L889.45 784.99 L892.41 786.05 L895.37 787.1 L898.34 788.14 L901.3 789.18 L904.26 790.21 L907.22 791.24 L910.18 792.26 L913.15 793.28 L916.11 794.28 L919.07 795.29 L922.03 796.28 L924.99 797.27 L927.96 798.26 L930.92 799.24 L933.88 800.21 L936.84 801.18 L939.8 802.14 L942.77 803.09 L945.73 804.04 L948.69 804.99 L951.65 805.93 L954.61 806.86 L957.58 807.79 L960.54 808.71 L963.5 809.62 L966.46 810.54 L969.43 811.44 L972.39 812.34 L975.35 813.24 L978.31 814.13 L981.27 815.01 L984.24 815.89 L987.2 816.76 L990.16 817.63 L993.12 818.5 L996.08 819.35 L999.05 820.21 L1002.01 821.06 L1004.97 821.9 L1007.93 822.74 L1010.89 823.57 L1013.86 824.4 L1016.82 825.22 L1019.78 826.04 L1022.74 826.85 L1025.71 827.66 L1028.67 828.47 L1031.63 829.27 L1034.59 830.06 L1037.55 830.85 L1040.52 831.64 L1043.48 832.42 L1046.44 833.19 L1049.4 833.96 L1052.36 834.73 L1055.33 835.49 L1058.29 836.25" stroke="#3a88be" stroke-width="4.4" fill="none" stroke-linejoin="round" />
<path d="M655.9 562.6V606.6 M653.4 626.4V626.4 M659.6 613.9V635.9 M656.6 642.6V642.6 M664.4 695.4V801.4 M674.3 703.3V755.3 M694.3 768.1V798.1 M733.6 821.6V833.6 M812.4 825.2V905.2 M969.9 892.4V909.6" stroke="#2a7a42" stroke-width="3.1" fill="none"/>
<path d="M655.2 675.2V737.2 M655.1 647.2V671.2 M654.8 674.8V694.8 M659.2 661.2V687.2 M664 644V732 M674.2 685.5V685.5 M694.3 676.2V714.8 M733.6 719.2V737.2 M812.4 707.8V754.2 M969.9 811.8V840.2" stroke="#3a88be" stroke-width="3.1" fill="none"/>
<g fill="#eef4fa" stroke="#3a88be" stroke-width="2.0"><circle cx="655.2" cy="706.2" r="6.2"/><circle cx="655.1" cy="659.2" r="6.2"/><circle cx="654.8" cy="684.8" r="6.2"/><circle cx="659.2" cy="674.2" r="6.2"/><circle cx="664" cy="688" r="6.2"/><circle cx="674.2" cy="685.5" r="6.2"/><circle cx="694.3" cy="695.5" r="6.2"/><circle cx="733.6" cy="728.2" r="6.2"/><circle cx="812.4" cy="731" r="6.2"/><circle cx="969.9" cy="826" r="6.2"/></g>
<g fill="#b8e2ae" stroke="#2a7340" stroke-width="2.0"><circle cx="655.9" cy="584.6" r="6.2"/><circle cx="653.4" cy="626.4" r="6.2"/><circle cx="659.6" cy="624.9" r="6.2"/><circle cx="656.6" cy="642.6" r="6.2"/><circle cx="664.4" cy="748.4" r="6.2"/><circle cx="674.3" cy="729.3" r="6.2"/><circle cx="694.3" cy="783.1" r="6.2"/><circle cx="733.6" cy="827.6" r="6.2"/><circle cx="812.4" cy="865.2" r="6.2"/><circle cx="969.9" cy="901" r="6.2"/></g>
</g>
<path d="M654 553.4 v13.5 M654 963 v-13.5 M780.34 553.4 v13.5 M780.34 963 v-13.5 M906.68 553.4 v13.5 M906.68 963 v-13.5 M1033.02 553.4 v13.5 M1033.02 963 v-13.5 M717.17 553.4 v7.3 M717.17 963 v-7.3 M843.51 553.4 v7.3 M843.51 963 v-7.3 M969.85 553.4 v7.3 M969.85 963 v-7.3 M639 836.94 h13.5 M1049.1 836.94 h-13.5 M639 710.88 h13.5 M1049.1 710.88 h-13.5 M639 584.82 h13.5 M1049.1 584.82 h-13.5 M639 899.97 h7.3 M1049.1 899.97 h-7.3 M639 773.91 h7.3 M1049.1 773.91 h-7.3 M639 647.85 h7.3 M1049.1 647.85 h-7.3" stroke="#1a1a1a" stroke-width="2.0" fill="none"/>
<rect x="639" y="553.4" width="410.1" height="409.6" fill="none" stroke="#1a1a1a" stroke-width="2.0"/>
<text x="654" y="998.8" font-size="29" text-anchor="middle">0</text>
<text x="780.34" y="998.8" font-size="29" text-anchor="middle">2</text>
<text x="906.68" y="998.8" font-size="29" text-anchor="middle">4</text>
<text x="1033.02" y="998.8" font-size="29" text-anchor="middle">6</text>
<text x="623.3" y="973.2" font-size="29" text-anchor="end">0</text>
<text x="623.3" y="847.14" font-size="29" text-anchor="end">2</text>
<text x="623.3" y="721.08" font-size="29" text-anchor="end">4</text>
<text x="623.3" y="595.02" font-size="29" text-anchor="end">6</text>
<text x="843.8" y="1042.8" font-size="29" text-anchor="middle" textLength="162.5" lengthAdjust="spacingAndGlyphs">Hold time (s)</text>
<g transform="translate(578.4 758.5) rotate(-90)" font-size="29"><text x="-162.6" y="0" textLength="114.3" lengthAdjust="spacingAndGlyphs">Molecule</text><text x="-40.7" y="0" textLength="105.1" lengthAdjust="spacingAndGlyphs">number</text><text x="71" y="0" font-style="italic">N</text><text x="100.5" y="0">(10</text><text x="141.6" y="-9.2" font-size="20.5">3</text><text x="152.4" y="0">)</text></g>
</svg>
</body></html>
